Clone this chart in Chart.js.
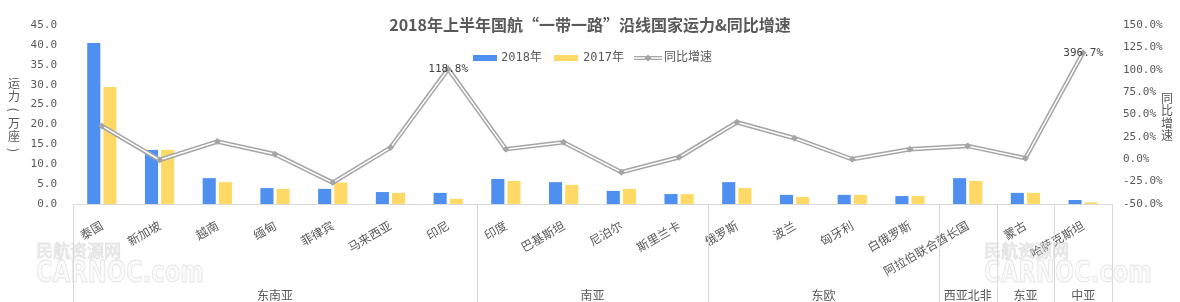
<!DOCTYPE html>
<html>
<head>
<meta charset="utf-8">
<script src="https://cdn.jsdelivr.net/npm/chart.js@4"></script>
<style>
html, body { margin: 0; padding: 0; background: #fff; }
#wrap { width: 1180px; height: 302px; }
</style>
</head>
<body>
<div id="wrap"><canvas id="chart" width="1180" height="302"></canvas></div>
<script>
// values
const categories = ['泰国', '新加坡', '越南', '缅甸', '菲律宾', '马来西亚', '印尼',
    '印度', '巴基斯坦', '尼泊尔', '斯里兰卡',
    '俄罗斯', '波兰', '匈牙利', '白俄罗斯',
    '阿拉伯联合酋长国', '蒙古', '哈萨克斯坦'];
const capacity2018 = [40.5, 13.6, 6.5, 4.0, 3.8, 3.0, 2.8, 6.3, 5.5, 3.3, 2.5, 5.5, 2.3, 2.3, 2.0, 6.5, 2.8, 1.0];
const capacity2017 = [29.4, 13.6, 5.5, 3.8, 5.4, 2.8, 1.3, 5.8, 4.8, 3.8, 2.5, 4.0, 1.8, 2.3, 2.0, 5.8, 2.8, 0.4];
// growth as plotted (%), the two big ones are drawn capped in the original
const growth = [37.2, -0.8, 19.7, 5.6, -26.1, 13.0, 100.9, 11.2, 19.0, -14.5, 2.2, 41.3, 23.5, 0.0, 11.2, 14.9, 1.1, 119.1];
const growthLabels = ['', '', '', '', '', '', '118.8%', '', '', '', '', '', '', '', '', '', '', '396.7%'];
const groups = ['东南亚', '南亚', '东欧', '西亚北非', '东亚', '中亚'];
const groupSizes = [7, 4, 4, 1, 1, 1];

const blue = '#4f8fef';
const yellow = '#ffd966';
const gray = '#a5a5a5';
const textColor = '#595959';
const cjk = "'Noto Sans CJK SC', sans-serif";
const mono = "'DejaVu Sans Mono', 'Noto Sans CJK SC', monospace";

function diamond(ctx, x, y, r) {
    ctx.beginPath();
    ctx.moveTo(x, y - r);
    ctx.lineTo(x + r, y);
    ctx.lineTo(x, y + r);
    ctx.lineTo(x - r, y);
    ctx.closePath();
    ctx.fill();
}

const overlay = {
    id: 'overlay',
    afterDraw(chart) {
        const ctx = chart.ctx;
        const area = chart.chartArea;
        const x = chart.scales.x;
        ctx.save();

        // watermark
        ctx.globalAlpha = 0.45;
        ctx.strokeStyle = '#c8c8c8';
        ctx.fillStyle = '#f4f4f4';
        ctx.lineWidth = 1;
        ctx.textBaseline = 'middle';
        ctx.textAlign = 'left';
        [36, 984].forEach(wx => {
            ctx.font = '17px ' + cjk;
            ctx.fillText('民航资源网', wx, 251, 100);
            ctx.strokeText('民航资源网', wx, 251, 100);
            ctx.font = 'bold 30px ' + "'DejaVu Sans', sans-serif";
            ctx.fillText('CARNOC.com', wx, 274, 168);
            ctx.strokeText('CARNOC.com', wx, 274, 168);
        });
        ctx.globalAlpha = 1;

        // title
        ctx.fillStyle = textColor;
        ctx.textAlign = 'center';
        ctx.textBaseline = 'middle';
        ctx.font = 'bold 16px ' + cjk;
        ctx.fillText('2018年上半年国航“一带一路”沿线国家运力&同比增速', 590, 25);

        // legend
        ctx.font = '12px ' + mono;
        ctx.textAlign = 'left';
        ctx.fillStyle = blue;
        ctx.fillRect(473, 55, 24, 6);
        ctx.fillStyle = textColor;
        ctx.fillText('2018年', 501, 58);
        ctx.fillStyle = yellow;
        ctx.fillRect(554, 55, 24, 6);
        ctx.fillStyle = textColor;
        ctx.fillText('2017年', 583, 58);
        ctx.strokeStyle = gray;
        ctx.lineWidth = 4;
        ctx.beginPath(); ctx.moveTo(634, 58); ctx.lineTo(662, 58); ctx.stroke();
        ctx.strokeStyle = '#fff';
        ctx.lineWidth = 1.5;
        ctx.beginPath(); ctx.moveTo(634, 58); ctx.lineTo(662, 58); ctx.stroke();
        ctx.fillStyle = gray;
        diamond(ctx, 648, 58, 3.5);
        ctx.fillStyle = textColor;
        ctx.fillText('同比增速', 664, 58);

        // axis titles, stacked vertically; brackets turned on their side
        ctx.textAlign = 'center';
        ctx.font = '12px ' + cjk;
        ['运', '力', '(', '万', '座', ')'].forEach((c, i) => {
            const cy = 83 + i * 13.4;
            if (c === '(' || c === ')') {
                ctx.save();
                ctx.translate(14, cy);
                ctx.rotate(Math.PI / 2);
                ctx.fillText(c, 0, 0);
                ctx.restore();
            } else {
                ctx.fillText(c, 14, cy);
            }
        });
        ['同', '比', '增', '速'].forEach((c, i) => ctx.fillText(c, 1167, 98 + i * 12.5));

        // data labels
        ctx.font = '11px ' + mono;
        const y1 = chart.scales.y1;
        growthLabels.forEach((t, i) => {
            if (!t) return;
            ctx.fillStyle = '#404040';
            ctx.fillText(t, x.getPixelForValue(i), y1.getPixelForValue(growth[i]));
        });

        // group separators and labels
        const step = (area.right - area.left) / categories.length;
        ctx.strokeStyle = '#d9d9d9';
        ctx.lineWidth = 1;
        let start = 0;
        const bottom = chart.height;
        const drawSep = px => {
            ctx.beginPath();
            ctx.moveTo(Math.round(px) + 0.5, area.bottom);
            ctx.lineTo(Math.round(px) + 0.5, bottom);
            ctx.stroke();
        };
        drawSep(area.left);
        ctx.fillStyle = textColor;
        ctx.font = '12px ' + cjk;
        groups.forEach((g, i) => {
            const end = start + groupSizes[i];
            const left = area.left + start * step;
            const right = area.left + end * step;
            drawSep(right);
            ctx.fillText(g, (left + right) / 2, 295);
            start = end;
        });
        ctx.restore();
    }
};

new Chart(document.getElementById('chart'), {
    type: 'bar',
    data: {
        labels: categories,
        datasets: [
            {
                type: 'line', label: '同比增速点', data: growth, yAxisID: 'y1',
                showLine: false, pointStyle: 'rectRot', pointRadius: 3.5,
                pointBackgroundColor: gray, pointBorderColor: gray, pointBorderWidth: 0, order: 0
            },
            {
                type: 'line', label: '同比增速内', data: growth, yAxisID: 'y1',
                borderColor: '#fff', borderWidth: 1.5, pointRadius: 0, tension: 0, order: 1
            },
            {
                type: 'line', label: '同比增速', data: growth, yAxisID: 'y1',
                borderColor: gray, borderWidth: 4.5, pointRadius: 0, tension: 0, order: 2
            },
            {
                label: '2018年', data: capacity2018, yAxisID: 'y', backgroundColor: blue,
                categoryPercentage: 0.56, barPercentage: 0.81, order: 3
            },
            {
                label: '2017年', data: capacity2017, yAxisID: 'y', backgroundColor: yellow,
                categoryPercentage: 0.56, barPercentage: 0.81, order: 4
            }
        ]
    },
    options: {
        responsive: false,
        animation: false,
        devicePixelRatio: 1,
        layout: { padding: { top: 25, left: 0, right: 0, bottom: 0 } },
        plugins: {
            legend: { display: false },
            title: { display: false },
            tooltip: { enabled: false }
        },
        scales: {
            x: {
                grid: { display: false, drawTicks: false },
                border: { display: true, color: '#d9d9d9' },
                ticks: {
                    autoSkip: false, minRotation: 30, maxRotation: 30, padding: 14,
                    color: textColor, font: { family: cjk, size: 12 }
                },
                afterFit: s => { s.height = 98; }
            },
            y: {
                position: 'left', min: 0, max: 45,
                grid: { display: false, drawTicks: false },
                border: { display: false },
                ticks: {
                    stepSize: 5, padding: 16, color: textColor, font: { family: mono, size: 11 },
                    callback: v => v.toFixed(1)
                },
                afterFit: s => { s.width = 73; }
            },
            y1: {
                position: 'right', min: -50, max: 150,
                grid: { display: false, drawTicks: false },
                border: { display: false },
                ticks: {
                    stepSize: 25, padding: 11, color: textColor, font: { family: mono, size: 11 },
                    callback: v => v.toFixed(1) + '%'
                },
                afterFit: s => { s.width = 68; }
            }
        }
    },
    plugins: [overlay]
});
</script>
</body>
</html>
